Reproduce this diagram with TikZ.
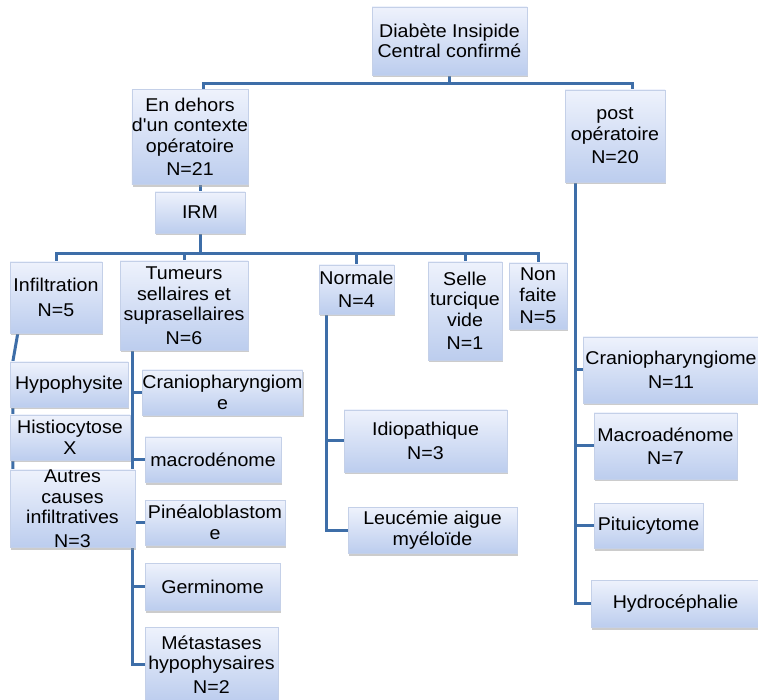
\documentclass[tikz,border=0pt]{standalone}
\usepackage{fontspec}
\newfontfamily\police{Liberation Sans}[FakeStretch=1.06]
\usetikzlibrary{shadows, backgrounds, positioning}

\definecolor{trait}{RGB}{62,110,168}
\definecolor{boxhaut}{RGB}{238,242,252}
\definecolor{boxbas}{RGB}{188,205,238}
\definecolor{bord}{RGB}{196,208,232}

\begin{document}
\begin{tikzpicture}[x=1pt,y=-1pt,every node/.style={font=\police\fontsize{18.5}{20.5}\selectfont}]

\tikzstyle{boite}=[draw=bord,top color=boxhaut,bottom color=boxbas,align=center,inner sep=0pt,drop shadow={shadow xshift=1pt,shadow yshift=-2.5pt,fill=black!40}]
\tikzstyle{lien}=[draw=trait,line width=3pt]

\useasboundingbox (0,0) rectangle (758,700);

\node (diab) [boite,minimum width=155,minimum height=68] at (449.5,41) {Diabète Insipide\\Central confirmé};
\node (dehors) [boite,minimum width=110,minimum height=95] at (190,137) {En dehors\\d'un contexte\\opératoire\\[3pt]N=21};
\node (post) [boite,minimum width=100,minimum height=92] at (615,136) {post\\opératoire\\[3pt]N=20};
\node (irm) [boite,minimum width=90,minimum height=41] at (200,212.5) {IRM};

\node (infil) [boite,minimum width=92,minimum height=71] at (56,297.5) {Infiltration\\[4pt]N=5};
\node (tum) [boite,minimum width=128,minimum height=89] at (184,305.5) {Tumeurs\\sellaires et\\suprasellaires\\[3pt]N=6};
\node (norm) [boite,minimum width=75,minimum height=49] at (356.5,289.5) {Normale\\[3pt]N=4};
\node (selle) [boite,minimum width=74,minimum height=98] at (465,311) {Selle\\turcique\\vide\\[3pt]N=1};
\node (nonf) [boite,minimum width=58,minimum height=66] at (538,296) {Non\\faite\\[2pt]N=5};

\node (hypo) [boite,minimum width=118,minimum height=45] at (69,384.5) {Hypophysite};
\node (histio) [boite,minimum width=120,minimum height=45] at (70,437.5) {Histiocytose\\X};
\node (autres) [boite,minimum width=125,minimum height=73] at (72.5,508.5) {Autres\\causes\\infiltratives\\[3pt]N=3};

\node (cranioG) [boite,minimum width=155,minimum height=45] at (222.5,392.5) {Craniopharyngiom\\e};
\node (macroG) [boite,minimum width=136,minimum height=45] at (213,459.5) {macrodénome};
\node (pineal) [boite,minimum width=140,minimum height=45] at (215,522.5) {Pinéaloblastom\\e};
\node (germ) [boite,minimum width=135,minimum height=47] at (212.5,586.5) {Germinome};
\node (meta) [boite,minimum width=133,minimum height=75] at (211.5,664.5) {Métastases\\hypophysaires\\[3pt]N=2};

\node (idio) [boite,minimum width=163,minimum height=62] at (425.5,441) {Idiopathique\\[3pt]N=3};
\node (leuc) [boite,minimum width=169,minimum height=46] at (432.5,530) {Leucémie aigue\\myéloïde};

\node (cranioD) [boite,minimum width=176,minimum height=66] at (671,370) {Craniopharyngiome\\[3pt]N=11};
\node (macroD) [boite,minimum width=143,minimum height=66] at (665.5,446) {Macroadénome\\[3pt]N=7};
\node (pitui) [boite,minimum width=109,minimum height=45] at (648.5,525.5) {Pituicytome};
\node (hydro) [boite,minimum width=169,minimum height=47] at (675.5,603.5) {Hydrocéphalie};

\begin{scope}[on background layer]
\draw[lien] (diab.south) -- ++(0,8) -| ([xshift=13pt]dehors.north);
\draw[lien] (diab.south) -- ++(0,8) -| ([xshift=17pt]post.north);
\draw[lien] (dehors.south -| irm.north) -- (irm.north);
\foreach \b in {infil,tum,norm,selle,nonf}
  \draw[lien] (irm.south) -- ++(0,20) -| (\b.north);

\draw[lien] ([xshift=8pt]infil.south west) -- ([xshift=3pt]hypo.north west) -- ([xshift=3pt]autres.west);
\foreach \b in {cranioG,macroG,pineal,germ,meta}
  \draw[lien] ([xshift=13pt]tum.south west) |- (\b.west);
\foreach \b in {idio,leuc}
  \draw[lien] ([xshift=8pt]norm.south west) |- (\b.west);
\foreach \b in {cranioD,macroD,pitui,hydro}
  \draw[lien] ([xshift=11pt]post.south west) |- (\b.west);
\end{scope}

\end{tikzpicture}
\end{document}
